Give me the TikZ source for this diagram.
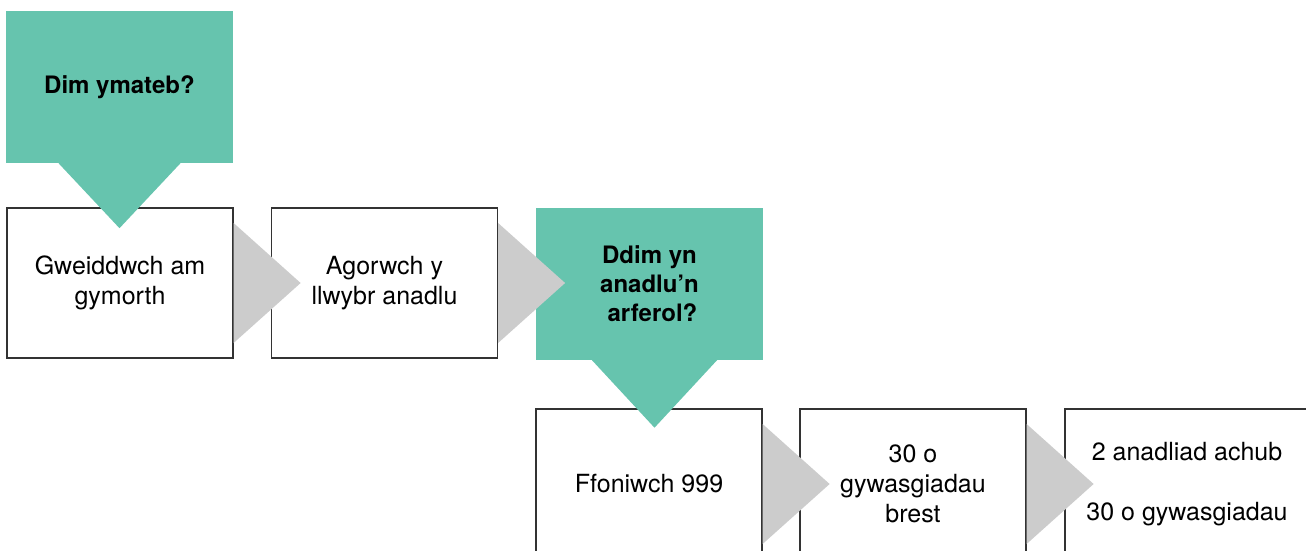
\documentclass[tikz,border=0pt]{standalone}
\usepackage{fontspec}
\setmainfont{TeX Gyre Heros}
\usepackage{xcolor}
\definecolor{calloutgreen}{HTML}{66C4AE}
\definecolor{arrowgray}{HTML}{CCCCCC}
\definecolor{boxline}{HTML}{333333}

\tikzset{
  stepbox/.style={draw=boxline, line width=1.2pt, fill=white, minimum width=226pt,
    minimum height=150pt, inner sep=0pt, align=center, font=\fontsize{25}{30}\selectfont},
  callout/.style={fill=calloutgreen, minimum width=227pt, minimum height=152pt,
    inner sep=0pt, align=center, font=\bfseries\fontsize{24}{29}\selectfont}
}

\begin{document}
\begin{tikzpicture}[x=1pt, y=-1pt]
    \useasboundingbox (0,0) rectangle (1306,551);
    \clip (0,0) rectangle (1306,551);

    % First row
    \node[stepbox] (shout) at (120,283) {Gweiddwch am\\gymorth};
    \node[stepbox] (airway) at (384.5,283) {Agorwch y\\llwybr anadlu};
    \node[callout] (noresp) at (119.5,87) {Dim ymateb?};
    \node[callout] (nobreath) at (649.5,283.5) {Ddim yn\\anadlu’n\\\hspace*{6pt}arferol?};

    % Second row
    \node[stepbox] (call) at (649,484) {Ffoniwch 999};
    \node[stepbox] (press) at (913,484) {30 o\\gywasgiadau\\brest};
    \node[stepbox, minimum width=244pt] (breaths) at (1187,484) {2 anadliad achub\\[30pt]30 o gywasgiadau};

    % Green pointers
    \fill[calloutgreen] ([xshift=-61pt]noresp.south) -- ([xshift=61pt]noresp.south)
        -- ([yshift=-65pt]noresp.south) -- cycle;
    \fill[calloutgreen] ([xshift=-58pt]nobreath.south) -- ([xshift=68pt]nobreath.south)
        -- ([xshift=5pt,yshift=-68pt]nobreath.south) -- cycle;

    % Grey arrows
    \foreach \from in {shout, airway, call, press}
        \fill[arrowgray] ([yshift=60pt]\from.east) -- ([xshift=67pt]\from.east)
            -- ([yshift=-60pt]\from.east) -- cycle;
\end{tikzpicture}
\end{document}
